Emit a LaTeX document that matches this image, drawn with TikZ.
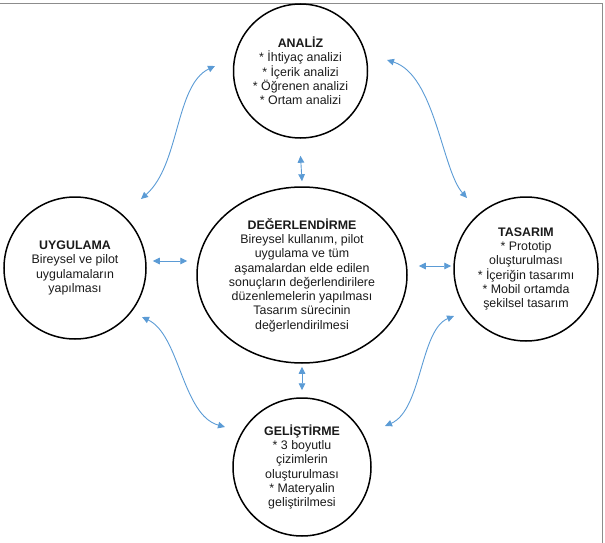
\documentclass[tikz,border=0pt]{standalone}
\usepackage{fontspec}
\setmainfont{Liberation Sans}
\usetikzlibrary{arrows.meta,shapes.geometric,calc}
\definecolor{cyclelink}{HTML}{5B9BD5}
\definecolor{cycleframe}{HTML}{8C8C8C}
\definecolor{cycletext}{HTML}{1A1A1A}
\tikzset{
  phase/.style={draw=black, line width=1.5pt, circle, inner sep=0pt,
                align=center, text=cycletext,
                font=\fontsize{12.4}{14.3}\selectfont},
  centre/.style={phase, ellipse},
  link/.style={{Triangle[length=7pt,width=6.5pt]}-{Triangle[length=7pt,width=6.5pt]},
               draw=cyclelink, line width=0.9pt},
}

\begin{document}
\begin{tikzpicture}[x=1pt,y=-1pt]
\useasboundingbox (0,0) rectangle (605,543);
% frame of the figure (top and right edge only)
\draw[cycleframe, line width=0.8pt] (0,3) -- (602,3) -- (602,543);

\node[centre, minimum width=210pt, minimum height=176pt] (deger) at (302,275)
  {\textbf{DEĞERLENDİRME}\\Bireysel kullanım, pilot\\uygulama ve tüm\\
   aşamalardan elde edilen\\sonuçların değerlendirilere\\
   düzenlemelerin yapılması\\Tasarım sürecinin\\değerlendirilmesi};
\node[phase, minimum size=134pt] (analiz) at (300.5,71)
  {\textbf{ANALİZ}\\* İhtiyaç analizi\\* İçerik analizi\\* Öğrenen analizi\\* Ortam analizi};
\node[phase, minimum size=142pt] (uygulama) at (75,268)
  {\textbf{UYGULAMA}\\Bireysel ve pilot\\uygulamaların\\yapılması};
\node[phase, minimum size=144pt] (tasarim) at (526,269)
  {\textbf{TASARIM}\\* Prototip\\oluşturulması\\* İçeriğin tasarımı\\* Mobil ortamda\\şekilsel tasarım};
\node[phase, minimum size=138pt] (gelistirme) at (302,467)
  {\textbf{GELİŞTİRME}\\* 3 boyutlu\\çizimlerin\\oluşturulması\\* Materyalin\\geliştirilmesi};

% straight links around the centre
\draw[link] ($(analiz.south)+(0,17)$) -- ($(deger.north)+(0,-5)$);
\draw[link] ($(deger.south)+(0,3)$) -- ($(gelistirme.north)+(0,-7)$);
\draw[link] ($(uygulama.east)+(6,-7)$) -- ($(deger.west)+(-9,-14)$);
\draw[link] ($(deger.east)+(11,-9)$) -- ($(tasarim.west)+(-2,-3)$);

% curved links between the outer phases
\coordinate (ua) at (141,199);
\coordinate (au) at (215,66);
\coordinate (at) at (387,60);
\coordinate (ta) at (467,198);
\coordinate (ug) at (142,317);
\coordinate (gu) at (225,427);
\coordinate (tg) at (454,316);
\coordinate (gt) at (385,426);
\draw[link] (ua) .. controls (180,165) and (175,85) .. (au);
\draw[link] (at) .. controls (435,75) and (442,170) .. (ta);
\draw[link] (ug) .. controls (180,335) and (182,415) .. (gu);
\draw[link] (tg) .. controls (420,330) and (422,410) .. (gt);
\end{tikzpicture}
\end{document}
